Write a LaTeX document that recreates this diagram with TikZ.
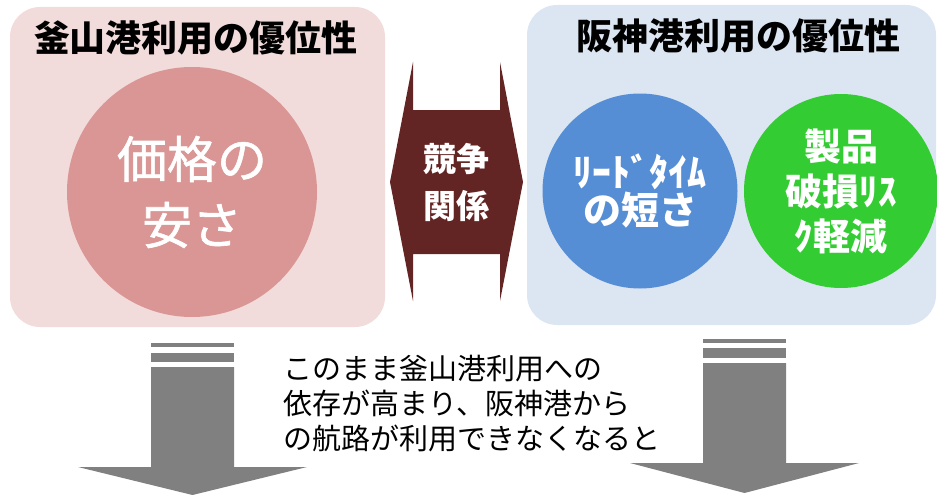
\documentclass[tikz,border=0pt]{standalone}
\usepackage{fontspec}
\setmainfont{Noto Sans CJK JP}
\newfontfamily\jpmedium{Noto Sans CJK JP}[FakeBold=1.2]
\definecolor{pinkpanel}{HTML}{F2DCDB}
\definecolor{pinkcircle}{HTML}{D99694}
\definecolor{bluepanel}{HTML}{DCE6F2}
\definecolor{bluecircle}{HTML}{558ED5}
\definecolor{greencircle}{HTML}{33CC33}
\definecolor{arrowred}{HTML}{632523}
\definecolor{arrowgray}{HTML}{808080}
\tikzset{
  panel/.style={rectangle, rounded corners=30pt, inner sep=0pt},
  bubble/.style={circle, inner sep=0pt, text=white, align=center},
  titletext/.style={inner sep=0pt, font=\bfseries\fontsize{36}{40}\selectfont}
}
\begin{document}
\begin{tikzpicture}[x=1pt,y=-1pt]
\useasboundingbox (0,0) rectangle (937,495);
% panels
\node[panel, fill=pinkpanel, minimum width=375pt, minimum height=320pt] (leftpanel) at (197.5,167) {};
\node[panel, fill=bluepanel, minimum width=409pt, minimum height=320pt] (rightpanel) at (731.5,165) {};
% titles
\node[titletext] (lefttitle) at (196,37.5) {釜山港利用の優位性};
\node[titletext] (righttitle) at (738,35.5) {阪神港利用の優位性};
% circles
\node[bubble, fill=pinkcircle, minimum size=250pt,
      font=\jpmedium\fontsize{50}{66}\selectfont] (price) at (192,192) {価格の\\安さ};
\node[bubble, fill=bluecircle, minimum size=195pt,
      font=\bfseries\fontsize{38}{38}\selectfont] (lead) at (640,191) {ﾘｰﾄﾞﾀｲﾑ\\の短さ};
\node[bubble, fill=greencircle, minimum size=194pt,
      font=\bfseries\fontsize{37}{45}\selectfont] (risk) at (841,191) {製品\\破損ﾘｽ\\ｸ軽減};
% double arrow (competition)
\fill[arrowred] (390,182) -- (413,62) -- (413,110) -- (500,110) -- (500,62) -- (523,182)
  -- (500,301) -- (500,254) -- (413,254) -- (413,301) -- cycle;
\node[inner sep=0pt, text=white, align=center,
      font=\bfseries\fontsize{33}{47}\selectfont] (compete) at (456,182.5) {競争\\関係};
% bottom arrows
\fill[arrowgray] (151,343) rectangle (234,347);
\fill[arrowgray] (151,353) rectangle (234,362);
\fill[arrowgray] (151,367) -- (234,367) -- (234,467) -- (307,467) -- (192.5,495)
  -- (78,467) -- (151,467) -- cycle;
\fill[arrowgray] (703,339) rectangle (786,343);
\fill[arrowgray] (703,348) rectangle (786,358);
\fill[arrowgray] (703,363) -- (786,363) -- (786,463) -- (859,463) -- (744.5,493)
  -- (630,463) -- (703,463) -- cycle;
% middle text
\node[inner sep=0pt, anchor=west, align=left,
      font=\fontsize{29}{35}\selectfont] (note) at (283,404)
  {このまま釜山港利用への\\依存が高まり、阪神港から\\の航路が利用できなくなると};
\end{tikzpicture}
\end{document}
